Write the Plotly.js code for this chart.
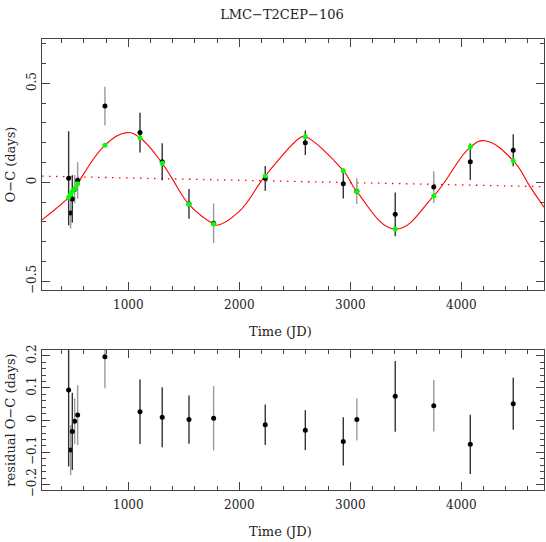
<!DOCTYPE html>
<html>
<head>
<meta charset="utf-8">
<script src="https://cdn.plot.ly/plotly-3.0.1.min.js"></script>
<style>html,body{margin:0;padding:0;background:#fff;}#chart{width:546px;height:542px;}</style>
</head>
<body>
<div id="chart"></div>
<script>
// ---- data ----
const obsTime   = [463, 481, 496, 517, 544, 790, 1106, 1306, 1547, 1769, 2234, 2595, 2937, 3059, 3405, 3752, 4081, 4468];
const obsOC     = [0.020, -0.155, -0.084, -0.035, 0.010, 0.385, 0.251, 0.104, -0.109, -0.207, 0.020, 0.200, -0.007, -0.045, -0.162, -0.024, 0.104, 0.162];
const obsErr    = [0.238, 0.078, 0.120, 0.071, 0.093, 0.098, 0.100, 0.093, 0.075, 0.100, 0.063, 0.062, 0.075, 0.065, 0.110, 0.080, 0.092, 0.081];
const obsGroup  = ["A", "B", "A", "B", "B", "B", "A", "A", "A", "B", "A", "A", "A", "B", "A", "B", "A", "A"];
const modelOC   = [-0.076, -0.061, -0.047, -0.032, -0.007, 0.187, 0.225, 0.096, -0.111, -0.211, 0.032, 0.230, 0.059, -0.047, -0.236, -0.069, 0.178, 0.109];
const residOC   = [0.094, -0.093, -0.035, -0.003, 0.016, 0.197, 0.026, 0.009, 0.002, 0.006, -0.014, -0.031, -0.066, 0.002, 0.074, 0.045, -0.075, 0.051];
// fitted curve, read at selected times off the picture
const fitTime   = [223, 463, 481, 496, 517, 544, 790, 988, 1106, 1306, 1394, 1547, 1769, 1796, 2000, 2234, 2547, 2590, 2937, 3059, 3405, 3752, 4081, 4214, 4468, 4619, 4745];
const fitOC     = [-0.190, -0.076, -0.061, -0.047, -0.032, -0.007, 0.187, 0.251, 0.225, 0.096, 0.020, -0.111, -0.211, -0.217, -0.147, 0.032, 0.225, 0.231, 0.059, -0.047, -0.236, -0.069, 0.178, 0.210, 0.109, -0.022, -0.126];
const trendTime = [223, 4745];
const trendOC   = [0.031, -0.022];
const xTickVals = [1000, 2000, 3000, 4000];

// ---- styles ----
const FONT = "DejaVu Serif";
const TXT = "#222";
const AX = "#444";
const errColor = {A: "#333333", B: "#9a9a9a"};

function pick(arr, g) { return arr.filter((_, i) => obsGroup[i] === g); }

const traces = [];
traces.push({x: fitTime, y: fitOC, mode: "lines", line: {color: "#ff0000", width: 1.1, shape: "spline", smoothing: 1.2}, xaxis: "x", yaxis: "y", hoverinfo: "skip"});
traces.push({x: trendTime, y: trendOC, mode: "lines", line: {color: "#ff0000", width: 1.3, dash: "1.5px,5.5px"}, xaxis: "x", yaxis: "y", hoverinfo: "skip"});
["B", "A"].forEach(g => {
  traces.push({x: pick(obsTime, g), y: pick(obsOC, g), mode: "markers",
    marker: {color: "#000", size: 5},
    error_y: {type: "data", array: pick(obsErr, g), visible: true, color: errColor[g], thickness: 1.4, width: 0},
    xaxis: "x", yaxis: "y"});
});
traces.push({x: obsTime, y: modelOC, mode: "markers", marker: {color: "#00ff00", size: 5}, xaxis: "x", yaxis: "y"});
["B", "A"].forEach(g => {
  traces.push({x: pick(obsTime, g), y: pick(residOC, g), mode: "markers",
    marker: {color: "#000", size: 5},
    error_y: {type: "data", array: pick(obsErr, g), visible: true, color: errColor[g], thickness: 1.4, width: 0},
    xaxis: "x2", yaxis: "y2"});
});

function xAxis(anchor) {
  return {anchor: anchor, range: [223, 4745], tickvals: xTickVals, ticktext: xTickVals.map(String),
    ticks: "inside", ticklen: 8, tickwidth: 1, tickcolor: AX,
    minor: {dtick: 200, tick0: 0, ticks: "inside", ticklen: 4, tickcolor: AX, tickwidth: 1},
    showline: true, linecolor: AX, linewidth: 1, mirror: "allticks",
    showgrid: false, zeroline: false,
    tickfont: {family: FONT, size: 12, color: TXT}, ticklabelstandoff: 4};
}
function yAxis(anchor, domain, range, dtick, minorDtick) {
  return {anchor: anchor, domain: domain, range: range, dtick: dtick, tick0: 0,
    ticks: "inside", ticklen: 8, tickwidth: 1, tickcolor: AX,
    minor: {dtick: minorDtick, tick0: 0, ticks: "inside", ticklen: 4, tickcolor: AX, tickwidth: 1},
    showline: true, linecolor: AX, linewidth: 1, mirror: "allticks",
    showgrid: false, zeroline: false, tickangle: -90,
    tickfont: {family: FONT, size: 12, color: TXT}};
}

const layout = {
  width: 546, height: 542,
  margin: {l: 42, r: 2, t: 39, b: 52},
  paper_bgcolor: "#fff", plot_bgcolor: "#fff",
  showlegend: false,
  title: {text: "LMC−T2CEP−106", font: {family: FONT, size: 13, color: TXT}, xref: "paper", x: 0.478, xanchor: "center", yref: "container", y: 1 - 14.5/542, yanchor: "middle"},
  xaxis: xAxis("y"),
  yaxis: Object.assign(yAxis("x", [0.4435, 1], [-0.544, 0.724], 0.5, 0.1), {title: {text: "O−C (days)", font: {family: FONT, size: 13, color: TXT}, standoff: 6}}),
  xaxis2: xAxis("y2"),
  yaxis2: Object.assign(yAxis("x2", [0, 0.3104], [-0.217, 0.218], 0.1, 0.02), {title: {text: "residual O−C (days)", font: {family: FONT, size: 13, color: TXT}, standoff: 6}}),
  annotations: [
    {text: "Time (JD)", xref: "paper", yref: "paper", x: 0.475, y: (542 - 39 - 331) / 451 - 52/451 + 0, showarrow: false, font: {family: FONT, size: 13, color: TXT}, xanchor: "center", yanchor: "middle"},
    {text: "Time (JD)", xref: "paper", yref: "paper", x: 0.475, y: (490 - 531) / 451, showarrow: false, font: {family: FONT, size: 13, color: TXT}, xanchor: "center", yanchor: "middle"}
  ]
};
// convert pixel centres to paper coordinates: plot area spans y 39..490
layout.annotations[0].y = (490 - 331) / 451;
layout.annotations[1].y = (490 - 531) / 451;

Plotly.newPlot("chart", traces, layout, {displayModeBar: false, staticPlot: true});
</script>
</body>
</html>
